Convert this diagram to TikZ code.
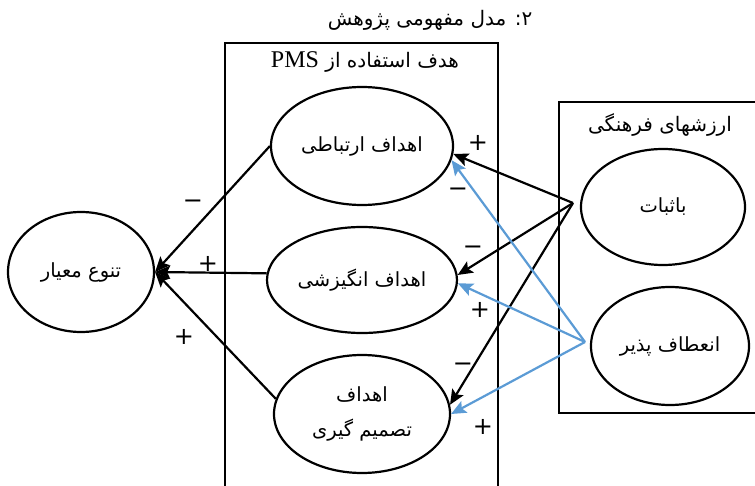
\documentclass[tikz,border=0pt]{standalone}
\usepackage{fontspec}
\setmainfont{Liberation Serif}
\newfontfamily\farsi[Script=Arabic]{DejaVu Sans}
\TeXXeTstate=1
\usepackage{tikz}
\usetikzlibrary{shapes.geometric, arrows.meta}
\definecolor{skyblue}{RGB}{91,155,213}

\begin{document}
\begin{tikzpicture}[x=1pt, y=-1pt,
    oval/.style={ellipse, draw, line width=2.2pt, inner sep=0pt, align=center, font=\farsi\fontsize{19.5}{23}\selectfont},
    frame/.style={line width=2.2pt},
    heading/.style={font=\farsi\fontsize{20}{24}\selectfont},
    arrow/.style={line width=2.2pt, -{Stealth[length=15pt, width=13pt, inset=3pt]}},
    bluearrow/.style={arrow, draw=skyblue, fill=skyblue},
    sign/.style={font=\farsi\fontsize{24}{26}\selectfont, inner sep=0pt}
  ]
    \useasboundingbox (0,0) rectangle (755,486);

    \node (title) [heading] at (430,20) {\beginR ۲: مدل مفهومی پژوهش\endR};

    % PMS box (open at the bottom)
    \draw [frame] (225,490) -- (225,43) -- (498,43) -- (498,490);
    \node (pms_title) [heading] at (365,62) {\beginR هدف استفاده از \beginL{\rmfamily\fontsize{24}{26}\selectfont PMS}\endL\endR};

    % culture box (open at the right)
    \draw [frame] (760,102) -- (559,102) -- (559,413) -- (760,413);
    \node (farhang_title) [heading] at (660,125) {\beginR ارزشهای فرهنگی\endR};

    \node (tanavo) [oval, minimum width=146pt, minimum height=120pt] at (81,272) {\beginR تنوع معیار\endR};

    \node (ertebati) [oval, minimum width=182pt, minimum height=118pt] at (362,146) {\beginR اهداف ارتباطی\endR};
    \node (angizeshi) [oval, minimum width=190pt, minimum height=106pt] at (362,280) {\beginR اهداف انگیزشی\endR};
    \node (tasmim) [oval, minimum width=176pt, minimum height=118pt] at (362,414) {\beginR اهداف\endR\\[12pt]\beginR تصمیم گیری\endR};

    \node (sabat) [oval, minimum width=164pt, minimum height=116pt] at (663,207) {\beginR باثبات\endR};
    \node (enataf) [oval, minimum width=158pt, minimum height=118pt] at (670,346) {\beginR انعطاف پذیر\endR};

    \coordinate (sabat_out) at (573,203);
    \coordinate (enataf_out) at (585,342);

    \draw [arrow] (ertebati.west) -- (tanavo.east);
    \draw [arrow] (angizeshi.176) -- (tanavo.east);
    \draw [arrow] (tasmim.170) -- (tanavo.east);

    \draw [arrow] (sabat_out) -- (ertebati.-5);
    \draw [arrow] (sabat_out) -- (angizeshi.3);
    \draw [arrow] (sabat_out) -- (tasmim.6);

    \draw [bluearrow] (enataf_out) -- (ertebati.-9);
    \draw [bluearrow] (enataf_out) -- (angizeshi.-2);
    \draw [bluearrow] (enataf_out) -- (tasmim.0);

    \node (s1) [sign] at (193,204) {−};
    \node (s2) [sign] at (208,264) {+};
    \node (s3) [sign] at (184,337) {+};
    \node (s4) [sign] at (478,143) {+};
    \node (s5) [sign] at (458,192) {−};
    \node (s6) [sign] at (473,250) {−};
    \node (s7) [sign] at (480,310) {+};
    \node (s8) [sign] at (463,367) {−};
    \node (s9) [sign] at (483,427) {+};

  \end{tikzpicture}
\end{document}
